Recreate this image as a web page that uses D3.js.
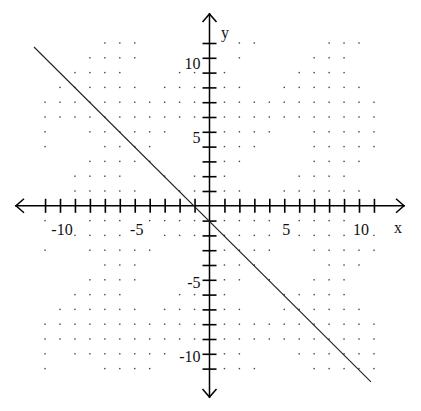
<!DOCTYPE html>
<html lang="en">
<head>
<meta charset="utf-8">
<title>Graph of a line</title>
<script src="https://cdn.jsdelivr.net/npm/d3@7"></script>
<style>
  body { margin: 0; background: #fff; }
  text { font-family: "Liberation Serif", "DejaVu Serif", serif; font-size: 16px; fill: #111; }
</style>
</head>
<body>
<script>
// data
var tickValues = d3.range(-11, 12).filter(function(d) { return d !== 0; });
var xLabels = [-10, -5, 5, 10];
var yLabels = [10, 5, -5, -10];
var lineX = [-11.74, 10.8];
var lineY = [10.73, -11.9];

// grid dots, one row per y value (the picture leaves some out)
var all = tickValues;
var dotY = [11, 10, 9, 8, 7, 6, 5, 4, 3, 2, 1, -1, -2, -3, -4, -5, -6, -7, -8, -9, -10, -11];
var dotX = [
  [-7, -6, -5, 2, 3, 8, 9, 10],
  [-8, -7, -6, -5, 2, 7, 8, 9],
  [-9, -8, -7, -6, -2, -1, 1, 6, 7, 8, 9],
  [-10, -9, -8, -7, -6, -5, -3, -2, -1, 1, 2, 5, 6, 7, 8, 9, 10],
  all,
  all,
  [-11, -8, -7, -6, -5, -4, -3, 1, 2, 3, 4, 7, 8, 9, 10, 11],
  [-11, -7, -6, -5, -4, 1, 2, 3, 7, 8, 9, 10, 11],
  [-8, -7, -6, -5, -4, 1, 2, 7, 8, 9, 10],
  [-9, -8, -7, -6, -3, -1, 1, 6, 7, 8, 9],
  [-9, -8, -7, -6, -5, -2, -1, 1, 2, 5, 6, 7, 8, 9, 10],
  [-11, -8, -7, -6, -4, -3, -2, -1, 1, 2, 3, 4, 6, 7, 8, 9],
  [-9, -8, -7, -6, -3, -2, -1, 1, 2, 3, 4, 6, 7, 8, 9, 11],
  [-11, -8, -7, -6, -5, -4, 1, 2, 3, 4, 7, 8, 9, 10, 11],
  [-7, -6, -5, 1, 2, 3, 8, 9, 10],
  [-8, -7, -6, -5, 1, 2, 4, 7, 8, 9],
  [-9, -8, -7, -6, -2, -1, 1, 5, 6, 7, 8, 9],
  [-10, -9, -8, -7, -6, -5, -3, -2, -1, 1, 2, 5, 6, 7, 8, 9, 10],
  all,
  all,
  [-11, -9, -8, -7, -6, -5, -4, -3, 1, 2, 6, 7, 8, 9, 10, 11],
  [-11, -7, -6, -5, -4, 1, 2, 3, 7, 8, 9, 10, 11]
];

var w = 421, h = 411;
var ox = 209.5, oy = 205.8;

var x = d3.scaleLinear().domain([-11, 11]).range([ox - 11 * 14.95, ox + 11 * 14.95]);
var y = d3.scaleLinear().domain([-11, 11]).range([oy + 11 * 14.8, oy - 11 * 14.8]);

var svg = d3.select("body").append("svg")
  .attr("width", w)
  .attr("height", h);

// dotted grid
var pts = [];
dotY.forEach(function(b, i) {
  dotX[i].forEach(function(a) { pts.push([a, b]); });
});
svg.append("g").selectAll("rect")
  .data(pts)
  .enter().append("rect")
  .attr("x", function(d) { return x(d[0]) - 0.7; })
  .attr("y", function(d) { return y(d[1]) - 0.7; })
  .attr("width", 1.4)
  .attr("height", 1.4)
  .attr("fill", "#444");

// x axis: ticks cross the line
var xAxis = d3.axisBottom(x).tickValues(tickValues).tickSize(14).tickSizeOuter(0).tickFormat("");
var gx = svg.append("g").attr("transform", "translate(0," + (oy - 7) + ")").call(xAxis);
gx.select(".domain").remove();
gx.selectAll(".tick line").attr("stroke", "#000").attr("stroke-width", 1.6);

var yAxis = d3.axisLeft(y).tickValues(tickValues).tickSize(14).tickSizeOuter(0).tickFormat("");
var gy = svg.append("g").attr("transform", "translate(" + (ox + 7) + ",0)").call(yAxis);
gy.select(".domain").remove();
gy.selectAll(".tick line").attr("stroke", "#000").attr("stroke-width", 1.6);

// axis lines with open arrow heads
var axes = svg.append("g").attr("fill", "none").attr("stroke", "#000").attr("stroke-width", 1.5);
axes.append("line").attr("x1", 15).attr("x2", 405).attr("y1", oy).attr("y2", oy);
axes.append("line").attr("x1", ox).attr("x2", ox).attr("y1", 13).attr("y2", 398);
axes.append("path").attr("d", "M24," + (oy - 7) + " L16," + oy + " L24," + (oy + 7));
axes.append("path").attr("d", "M396," + (oy - 7) + " L404," + oy + " L396," + (oy + 7));
axes.append("path").attr("d", "M" + (ox - 7) + ",22 L" + ox + ",14 L" + (ox + 7) + ",22");
axes.append("path").attr("d", "M" + (ox - 7) + ",389 L" + ox + ",397 L" + (ox + 7) + ",389");

// tick labels
svg.append("g").selectAll("text")
  .data(xLabels)
  .enter().append("text")
  .attr("x", function(d) { return x(d) + 2; })
  .attr("y", oy + 29)
  .attr("text-anchor", "middle")
  .text(function(d) { return d; });

svg.append("g").selectAll("text")
  .data(yLabels)
  .enter().append("text")
  .attr("x", ox - 9)
  .attr("y", function(d) { return y(d) + (d > 0 ? 11 : 8); })
  .attr("text-anchor", "end")
  .text(function(d) { return d; });

svg.append("text").attr("x", 394).attr("y", oy + 27).text("x");
svg.append("text").attr("x", 221).attr("y", 38).text("y");

// the line
var line = d3.line()
  .x(function(d) { return x(d[0]); })
  .y(function(d) { return y(d[1]); });
svg.append("path")
  .datum(d3.zip(lineX, lineY))
  .attr("d", line)
  .attr("fill", "none")
  .attr("stroke", "#222")
  .attr("stroke-width", 1.1);
</script>
</body>
</html>
